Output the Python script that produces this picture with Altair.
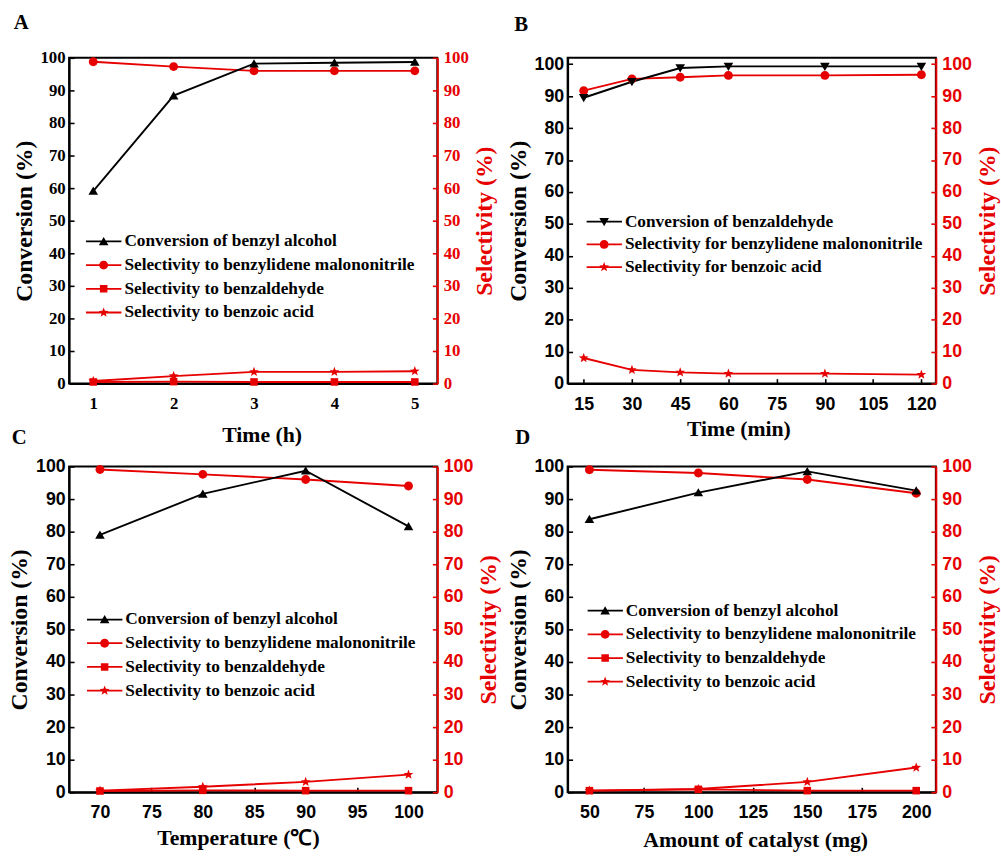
import math
import altair as alt
import pandas as pd

RED = "#e60000"
BLACK = "#000000"
SERIF = "Liberation Serif"
SANS = "Liberation Sans"

# ---------------- data ----------------
# Panel A : reaction time (h)
A_x = [1, 2, 3, 4, 5]
A_conversion = [59.1, 88.4, 98.2, 98.5, 98.7]
A_sel_malononitrile = [98.8, 97.3, 96.0, 96.0, 96.0]
A_sel_benzaldehyde = [0.5, 0.6, 0.5, 0.5, 0.5]
A_sel_benzoic = [0.8, 2.3, 3.6, 3.6, 3.8]
A_xticks = [1, 2, 3, 4, 5]

# Panel B : reaction time (min)
B_x = [15, 30, 45, 60, 90, 120]
B_conversion = [89.5, 94.5, 98.8, 99.3, 99.3, 99.3]
B_sel_malononitrile = [91.7, 95.4, 95.9, 96.5, 96.5, 96.7]
B_sel_benzoic = [8.0, 4.3, 3.5, 3.1, 3.1, 2.8]
B_xticks = [15, 30, 45, 60, 75, 90, 105, 120]

# Panel C : temperature
C_x = [70, 80, 90, 100]
C_conversion = [79.0, 91.6, 98.7, 81.6]
C_sel_malononitrile = [99.1, 97.6, 96.0, 94.0]
C_sel_benzaldehyde = [0.4, 0.6, 0.5, 0.5]
C_sel_benzoic = [0.5, 1.7, 3.2, 5.4]
C_xticks = [70, 75, 80, 85, 90, 95, 100]

# Panel D : amount of catalyst
D_x = [50, 100, 150, 200]
D_conversion = [83.8, 92.0, 98.5, 92.6]
D_sel_malononitrile = [99.0, 98.0, 96.0, 91.8]
D_sel_benzaldehyde = [0.5, 0.9, 0.5, 0.5]
D_sel_benzoic = [0.5, 1.0, 3.2, 7.6]
D_xticks = [50, 75, 100, 125, 150, 175, 200]

Y_TICKS = [0, 10, 20, 30, 40, 50, 60, 70, 80, 90, 100]

CONV_BA = "Conversion of benzyl alcohol"
SEL_BM = "Selectivity to benzylidene malononitrile"
SEL_BZH = "Selectivity to benzaldehyde"
SEL_BZA = "Selectivity to benzoic acid"
CONV_BZH = "Conversion of benzaldehyde"
SEL_BM_F = "Selectivity for benzylidene malononitrile"
SEL_BZA_F = "Selectivity for benzoic acid"

# ---------------- marker geometry ----------------
def _poly(points, k):
    return "M" + "L".join(f"{x * k:.3f},{y * k:.3f}" for x, y in points) + "Z"

TRI_UP = [(0, -1.0), (1.08, 0.85), (-1.08, 0.85)]
TRI_DOWN = [(0, 1.0), (-1.08, -0.85), (1.08, -0.85)]
SQUARE = [(-0.85, -0.85), (0.85, -0.85), (0.85, 0.85), (-0.85, 0.85)]
STAR = []
for i in range(10):
    r = 1.15 if i % 2 == 0 else 0.48
    a = math.radians(-90 + 36 * i)
    STAR.append((r * math.cos(a), r * math.sin(a)))

def marker_path(kind, k):
    if kind == "circle":
        return f"M{k:.3f},0A{k:.3f},{k:.3f},0,1,1,{-k:.3f},0A{k:.3f},{k:.3f},0,1,1,{k:.3f},0Z"
    pts = {"up": TRI_UP, "down": TRI_DOWN, "square": SQUARE, "star": STAR}[kind]
    return _poly(pts, k)

MARK_SIZE = 81          # 4.5 px per path unit
LEG_SIZE = 1296         # 18 px per path unit
LEG_K = 4.5 / 18.0

def legend_path(kind):
    line = "M-1,-0.05H1V0.05H-1Z"
    return line + " " + marker_path(kind, LEG_K)

AX_W, AX_H = 373, 330
TICK_LEN = 5


def tick_axis(orient, values, color):
    # inward ticks: a tick-only axis moved inside the frame
    return alt.Axis(
        orient=orient, values=values, title=None, grid=False, labels=False, domain=False,
        ticks=True, tickSize=TICK_LEN, tickColor=color, tickWidth=1.6, offset=-TICK_LEN,
    )


def panel(letter, x_vals, series, x_domain, x_ticks, x_title, y_max,
          tick_font, tick_size, leg_x, leg_y, leg_row_pad, title_dx, title_off,
          x_title_x, x_title_pad):
    rows = []
    for name, vals, side, color, kind in series:
        for xv, yv in zip(x_vals, vals):
            rows.append({"x": xv, "value": yv, "series": name, "side": side})
    df = pd.DataFrame(rows)
    names = [s[0] for s in series]
    color_scale = alt.Scale(domain=names, range=[s[3] for s in series])
    mark_scale = alt.Scale(domain=names, range=[marker_path(s[4], 1.0) for s in series])
    leg_scale = alt.Scale(domain=names, range=[legend_path(s[4]) for s in series])
    xscale = alt.Scale(domain=x_domain, nice=False, zero=False)
    yscale = alt.Scale(domain=[0, y_max], nice=False, zero=False)

    x_axis = alt.Axis(
        orient="bottom", values=x_ticks, title=x_title, grid=False, ticks=False,
        labelFont=tick_font, labelFontWeight="bold", labelFontSize=tick_size, labelColor=BLACK,
        labelPadding=12, labelFlush=False, labelOverlap=False,
        domainColor=BLACK, domainWidth=2,
        titleFont=SERIF, titleFontWeight="bold", titleFontSize=22, titleColor=BLACK,
        titlePadding=x_title_pad, titleX=x_title_x,
    )
    left_axis = alt.Axis(
        orient="left", values=Y_TICKS, title="Conversion (%)", grid=False, ticks=False,
        labelFont=tick_font, labelFontWeight="bold", labelFontSize=tick_size, labelColor=BLACK,
        labelPadding=4, labelOverlap=False, labelFlush=False,
        domainColor=BLACK, domainWidth=2,
        titleFont=SERIF, titleFontWeight="bold", titleFontSize=24, titleColor=BLACK,
        titlePadding=4,
    )
    right_axis = alt.Axis(
        orient="right", values=Y_TICKS, title="Selectivity (%)", grid=False, ticks=False,
        labelFont=tick_font, labelFontWeight="bold", labelFontSize=tick_size, labelColor=RED,
        labelPadding=6, labelOverlap=False, labelFlush=False,
        domainColor=RED, domainWidth=2,
        titleFont=SERIF, titleFontWeight="bold", titleFontSize=24, titleColor=RED,
        titlePadding=4, titleAngle=270, titleBaseline="top",
    )

    def enc(chart, x_ax, y_ax, shape=None):
        e = dict(
            x=alt.X("x:Q", scale=xscale, axis=x_ax),
            y=alt.Y("value:Q", scale=yscale, axis=y_ax),
            color=alt.Color("series:N", scale=color_scale, legend=None),
        )
        if shape is not None:
            e["shape"] = shape
        return chart.encode(**e)

    left = df[df["side"] == "left"]
    right = df[df["side"] == "right"]
    shp = alt.Shape("series:N", scale=mark_scale, legend=None)

    sel_line = enc(alt.Chart(right).mark_line(strokeWidth=1.9), None, right_axis)
    conv_line = enc(alt.Chart(left).mark_line(strokeWidth=1.9), x_axis, left_axis)
    sel_pts = enc(alt.Chart(right).mark_point(filled=True, size=MARK_SIZE, opacity=1),
                  tick_axis("bottom", x_ticks, BLACK), tick_axis("right", Y_TICKS, RED), shp)
    conv_pts = enc(alt.Chart(left).mark_point(filled=True, size=MARK_SIZE, opacity=1),
                   None, tick_axis("left", Y_TICKS, BLACK), shp)

    leg = alt.Legend(
        orient="none", legendX=leg_x, legendY=leg_y, title=None,
        symbolSize=LEG_SIZE, symbolOpacity=1, symbolStrokeWidth=0,
        labelFont=SERIF, labelFontWeight="bold", labelFontSize=17.5, labelColor=BLACK,
        labelOffset=3, labelLimit=0, rowPadding=leg_row_pad, padding=0, clipHeight=18,
    )
    provider = alt.Chart(df).mark_point(filled=True, opacity=0, size=MARK_SIZE).encode(
        x=alt.X("x:Q", scale=xscale, axis=None),
        y=alt.Y("value:Q", scale=yscale, axis=None),
        color=alt.Color("series:N", scale=color_scale, legend=leg),
        shape=alt.Shape("series:N", scale=leg_scale, legend=leg),
    )

    return alt.layer(
        sel_line, conv_line, sel_pts, conv_pts, provider
    ).resolve_scale(
        x="independent", y="independent", color="independent", shape="independent"
    ).properties(
        width=AX_W, height=AX_H,
        title=alt.TitleParams(letter, anchor="start", frame="group", dx=title_dx, offset=title_off,
                              font=SERIF, fontWeight="bold", fontSize=21, color=BLACK),
    )


pA = panel("A", A_x, [
    (CONV_BA, A_conversion, "left", BLACK, "up"),
    (SEL_BM, A_sel_malononitrile, "right", RED, "circle"),
    (SEL_BZH, A_sel_benzaldehyde, "right", RED, "square"),
    (SEL_BZA, A_sel_benzoic, "right", RED, "star"),
], [0.7, 5.28], A_xticks, "Time (h)", 100, SERIF, 17, 17, 177, 6, -56, 16, 195, 14)

pB = panel("B", B_x, [
    (CONV_BZH, B_conversion, "left", BLACK, "down"),
    (SEL_BM_F, B_sel_malononitrile, "right", RED, "circle"),
    (SEL_BZA_F, B_sel_benzoic, "right", RED, "star"),
], [10, 124.5], B_xticks, "Time (min)", 102, SANS, 18, 19, 157, 5, -54, 21, 173, 6)

pC = panel("C", C_x, [
    (CONV_BA, C_conversion, "left", BLACK, "up"),
    (SEL_BM, C_sel_malononitrile, "right", RED, "circle"),
    (SEL_BZH, C_sel_benzaldehyde, "right", RED, "square"),
    (SEL_BZA, C_sel_benzoic, "right", RED, "star"),
], [67, 102.8], C_xticks, "Temperature (℃)", 100, SANS, 18, 18, 146, 6, -58, 10, 171, 6)

pD = panel("D", D_x, [
    (CONV_BA, D_conversion, "left", BLACK, "up"),
    (SEL_BM, D_sel_malononitrile, "right", RED, "circle"),
    (SEL_BZH, D_sel_benzaldehyde, "right", RED, "square"),
    (SEL_BZA, D_sel_benzoic, "right", RED, "star"),
], [40, 209], D_xticks, "Amount of catalyst (mg)", 100, SANS, 18, 20, 137, 6, -53, 10, 190, 8)

chart = alt.concat(
    pA, pB, pC, pD, columns=2, spacing={"row": 84, "column": 132}, bounds="flush"
).properties(
    padding={"left": 6, "top": 6, "right": 0, "bottom": 0},
    background="white",
).configure_view(
    stroke=BLACK, strokeWidth=2
)

chart.save("out.html", embed_options={"renderer": "svg", "actions": False})
